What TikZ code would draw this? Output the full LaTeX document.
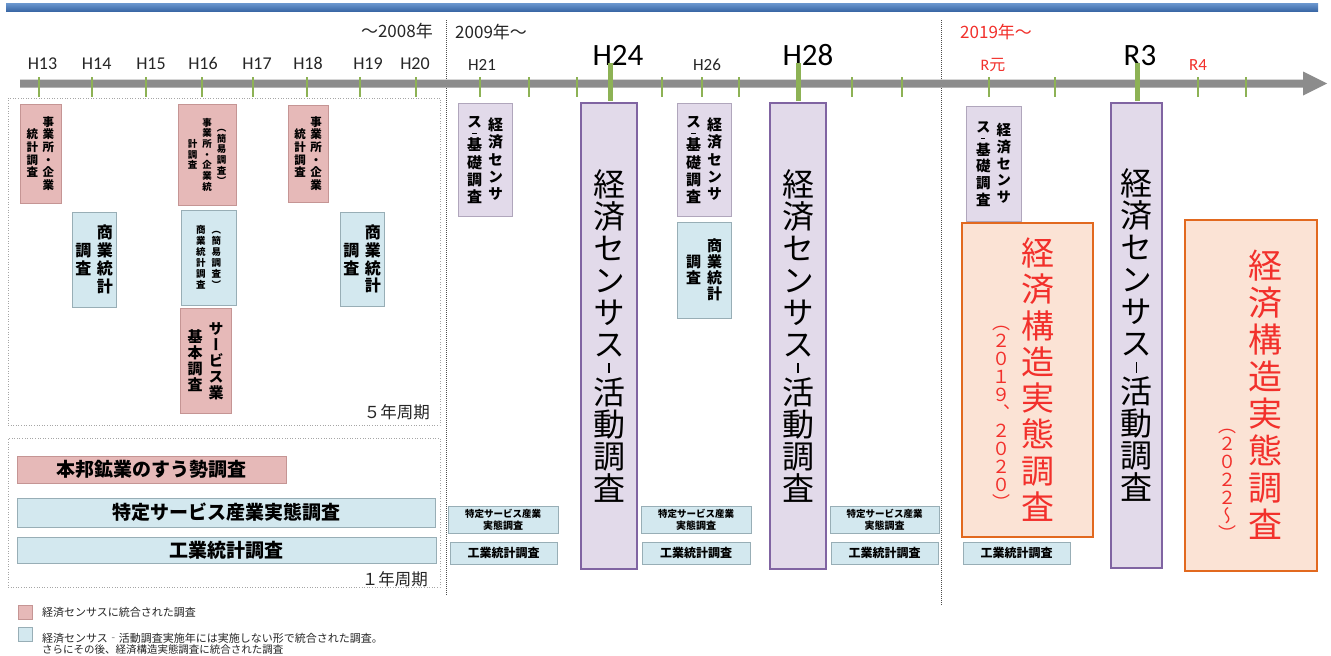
\documentclass[tikz,border=0pt]{standalone}
\usepackage{fontspec}
\setmainfont{Noto Sans CJK JP}
\newfontfamily\vjp[RawFeature=+vert]{Noto Sans CJK JP}
\newfontfamily\lat{Carlito}
\usetikzlibrary{shadows}
\definecolor{pinkf}{HTML}{E6B9B8}
\definecolor{pinkd}{HTML}{C59594}
\definecolor{bluef}{HTML}{D3E8EF}
\definecolor{blued}{HTML}{98AEB6}
\definecolor{lavf}{HTML}{E2DAEA}
\definecolor{lavd}{HTML}{B0A6BC}
\definecolor{purd}{HTML}{8064A2}
\definecolor{orf}{HTML}{FBE3D5}
\definecolor{ord}{HTML}{E2691F}
\definecolor{redt}{HTML}{F2302B}
\definecolor{axisc}{HTML}{8C8C8C}
\definecolor{tickc}{HTML}{8DB255}
\definecolor{barA}{HTML}{6C98CF}
\definecolor{barB}{HTML}{3A68A6}
\newcommand\fs[1]{\fontsize{#1}{#1}\selectfont}
\newcommand\vtslot[2]{\hbox to 1em{\hss\vrule width 0pt height \dimexpr#1em/2+0.38em\relax depth \dimexpr#1em/2-0.38em\relax\vjp #2\hss}}
\newcommand\vtvdash{\hbox to 1em{\hss\vrule width 0pt height 0.25em depth 0.25em\vrule width 0.06em height 0.16em depth 0.16em\hss}}
\newcommand\vthdash{\hbox to 1em{\hss\vrule width 0pt height 0.2em depth 0.2em\vrule width 0.3em height 0.03em depth 0.03em\hss}}
\ExplSyntaxOn
\NewDocumentCommand\vcol{O{1.05}m}
 {
  \vbox
   {
    \offinterlineskip
    \tl_map_inline:nn {#2}
     {
      \str_if_eq:nnTF {##1}{-}
       { \vtvdash }
       {
        \str_if_eq:nnTF {##1}{=}
         { \vthdash }
         { \vtslot{#1}{##1} }
       }
     }
   }
 }
\ExplSyntaxOff
\newcommand\vcc[2][1.05]{\vcenter{\vcol[#1]{#2}}}
\newcommand\bx[7]{\node[#2, minimum width={(#5)-(#3)}, minimum height={(#6)-(#4)}] (#1) at ({((#3)+(#5))/2},{((#4)+(#6))/2}) {#7};}
\begin{document}
\begin{tikzpicture}[x=1pt,y=-1pt,
  sh/.style={drop shadow={shadow xshift=1.3pt, shadow yshift=-1.3pt, opacity=0.35}},
  pinkbox/.style={draw=pinkd, fill=pinkf, line width=0.6pt, inner sep=0pt, sh, font=\bfseries},
  bluebox/.style={draw=blued, fill=bluef, line width=0.6pt, inner sep=0pt, sh, align=center, font=\bfseries},
  lavbox/.style={draw=lavd, fill=lavf, line width=0.6pt, inner sep=0pt, sh, font=\bfseries},
  bigbox/.style={draw=purd, fill=lavf, line width=2.2pt, inner sep=0pt},
  orbox/.style={draw=ord, fill=orf, line width=2.6pt, inner sep=0pt},
  dotbox/.style={draw=black!35, dotted, line width=0.6pt, inner sep=0pt},
  divider/.style={draw=black!70, densely dotted, line width=1pt},
  tk/.style={draw=tickc, line width=2pt},
  tkb/.style={draw=tickc, line width=5pt},
  hl/.style={inner sep=0pt, anchor=base, text=black!85},
  lab/.style={inner sep=0pt, text=black!85},
  vt/.style={inner sep=0pt}]
\useasboundingbox (0,0) rectangle (1331,656);
\fill[white] (0,0) rectangle (1331,656);
% top bar
\shade[top color=barA, bottom color=barB] (6,3) rectangle (1318,11);
% section boxes
\bx{five}{dotbox}{8}{98}{440}{425}{}
\bx{one}{dotbox}{8}{438}{440}{587}{}
\node[lab, anchor=base east] (l5) at (430,418) {\fs{16.5}５年周期};
\node[lab, anchor=base east] (l1) at (428,585) {\fs{16.5}１年周期};
% dividers
\draw[divider] (446.5,20) -- (446.5,595);
\draw[divider] (941.5,20) -- (941.5,606);
% axis
\fill[axisc] (20,79.5) -- (1303,79.5) -- (1303,71.5) -- (1327,83.5) -- (1303,95.5) -- (1303,87.5) -- (20,87.5) -- cycle;
\foreach \x in {39,92,146,202,253,307,360,416,480,529,577,662,702,739,852,902,989,1055,1198,1246}
  \draw[tk] (\x,77) -- (\x,97);
% year labels
\node[hl] (yH13) at (42.5,69) {\lat\fs{18}H13};
\node[hl] (yH14) at (96.7,69) {\lat\fs{18}H14};
\node[hl] (yH15) at (151,69) {\lat\fs{18}H15};
\node[hl] (yH16) at (203,69) {\lat\fs{18}H16};
\node[hl] (yH17) at (257,69) {\lat\fs{18}H17};
\node[hl] (yH18) at (308,69) {\lat\fs{18}H18};
\node[hl] (yH19) at (368,69) {\lat\fs{18}H19};
\node[hl] (yH20) at (415,69) {\lat\fs{18}H20};
\node[hl] (yH21) at (482,70) {\lat\fs{17}H21};
\node[hl] (yH26) at (707,70) {\lat\fs{17}H26};
\node[hl, text=black] (yH24) at (618,65) {\lat\fs{31}H24};
\node[hl, text=black] (yH28) at (808,65) {\lat\fs{31}H28};
\node[hl, text=black] (yR3) at (1140,65) {\lat\fs{31}R3};
\node[hl, text=redt] (yR1) at (993,70) {\fs{16}{\lat R}元};
\node[hl, text=redt] (yR4) at (1198,70) {\lat\fs{17}R4};
\node[lab, anchor=base east] (e1) at (433,37) {\fs{17}～2008年};
\node[lab, anchor=base west] (e2) at (455,38) {\fs{17}2009年～};
\node[lab, anchor=base west, text=redt] (e3) at (960,38) {\fs{17}2019年～};
\foreach \x in {610,798,1137}
  \draw[tkb] (\x,63) -- (\x,101);
% 5-year section
\bx{p1}{pinkbox}{20}{104}{61}{203}{\fs{11.5}$\vcc[1.1]{統計調査}\hskip4.5pt\vcc[1.1]{事業所・企業}$}
\bx{p2}{pinkbox}{178}{104}{236}{205}{\fs{9.5}$\vcc[1.12]{計調査}\hskip5pt\vcc[1.12]{事業所・企業統}\hskip5pt\vcc[1.12]{（簡易調査）}$}
\bx{p3}{pinkbox}{288}{105}{328}{202}{\fs{11.5}$\vcc[1.1]{統計調査}\hskip4.5pt\vcc[1.1]{事業所・企業}$}
\bx{b1}{bluebox}{72}{212}{116}{307}{\fs{16}$\vcc[1.12]{調査}\hskip5.5pt\vcc[1.12]{商業統計}$}
\bx{b2}{bluebox}{181}{210}{236}{305}{\fs{9.5}$\vcc[1.15]{商業統計調査}\hskip6pt\vcc[1.15]{（簡易調査）}$}
\bx{b3}{bluebox}{340}{212}{384}{306}{\fs{16}$\vcc[1.12]{調査}\hskip5.5pt\vcc[1.12]{商業統計}$}
\bx{p4}{pinkbox}{180}{308}{231}{413}{\fs{15}$\vcc[1.07]{基本調査}\hskip6pt\vcc[1.07]{サービス業}$}
% 1-year section
\bx{r1}{pinkbox}{17}{456}{286}{483}{\fs{19}本邦鉱業のすう勢調査}
\bx{r2}{bluebox}{17}{498}{435}{527}{\fs{19}特定サービス産業実態調査}
\bx{r3}{bluebox}{17}{537}{436}{563}{\fs{19}工業統計調査}
% 2009- section
\bx{s1}{lavbox}{458}{103}{512}{216}{\fs{15}$\vcc[1.15]{ス=基礎調査}\hskip6pt\vcc[1.15]{経済センサ}$}
\bx{s2}{lavbox}{677}{103}{731}{216}{\fs{15}$\vcc[1.15]{ス=基礎調査}\hskip6pt\vcc[1.15]{経済センサ}$}
\bx{b4}{bluebox}{677}{222}{731}{318}{\fs{15}$\vcc[1.07]{調査}\hskip6pt\vcc[1.07]{商業統計}$}
\bx{s3}{lavbox}{966}{106}{1021}{221}{\fs{14.5}$\vcc[1.15]{ス=基礎調査}\hskip6pt\vcc[1.15]{経済センサ}$}
\bx{c1}{bigbox}{581}{103}{637}{569}{\fs{32}\vcol[1.0]{経済センサス-活動調査}}
\bx{c2}{bigbox}{770}{103}{826}{569}{\fs{32}\vcol[1.0]{経済センサス-活動調査}}
\bx{c3}{bigbox}{1111}{103}{1162}{568}{\fs{32}\vcol[1.0]{経済センサス-活動調査}}
\bx{t1}{bluebox}{448}{506}{558}{533}{\fontsize{9.5}{10.5}\selectfont 特定サービス産業\\実態調査}
\bx{k1}{bluebox}{450}{542}{557}{564}{\fs{12}工業統計調査}
\bx{t2}{bluebox}{641}{506}{751}{533}{\fontsize{9.5}{10.5}\selectfont 特定サービス産業\\実態調査}
\bx{k2}{bluebox}{642}{542}{750}{564}{\fs{12}工業統計調査}
\bx{t3}{bluebox}{830}{506}{939}{533}{\fontsize{9.5}{10.5}\selectfont 特定サービス産業\\実態調査}
\bx{k3}{bluebox}{831}{542}{938}{564}{\fs{12}工業統計調査}
\bx{k4}{bluebox}{963}{542}{1070}{564}{\fs{12}工業統計調査}
% 2019- section
\bx{o1}{orbox}{962}{223}{1093}{537}{}
\node[vt, text=redt] (o1a) at (1037.5,380) {\fs{33}\vcol[1.1]{経済構造実態調査}};
\node[vt, text=redt] (o1b) at (1001,413) {\fs{18}\vcol[1.0]{（２０１９、２０２０）}};
\bx{o2}{orbox}{1185}{220}{1317}{571}{}
\node[vt, text=redt] (o2a) at (1265,395) {\fs{34}\vcol[1.09]{経済構造実態調査}};
\node[vt, text=redt] (o2b) at (1227,480) {\fs{18}\vcol[1.0]{（２０２２～）}};
% legend
\bx{lg1}{pinkbox}{18}{605}{32}{619}{}
\bx{lg2}{bluebox}{18}{627}{32}{641}{}
\node[lab, anchor=west] (lt1) at (42,612) {\fs{11}経済センサスに統合された調査};
\node[lab, anchor=west] (lt2) at (42,638) {\fs{11}経済センサス‐活動調査実施年には実施しない形で統合された調査。};
\node[lab, anchor=west] (lt3) at (42,650) {\fs{10.5}さらにその後、経済構造実態調査に統合された調査};
\end{tikzpicture}
\end{document}
